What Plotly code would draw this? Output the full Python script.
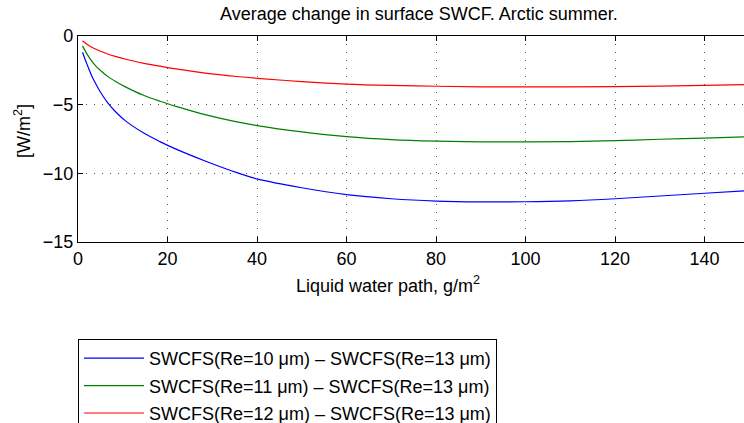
import plotly.graph_objects as go

lwp = [1, 2, 3, 4, 5, 6.6, 8.5, 10.7, 14.5, 18.3, 21.9, 28.4, 35.5, 40, 50, 60, 70, 80, 90, 100, 110, 120, 130, 140, 150]
re10 = [-1.18, -2.05, -2.85, -3.5, -4.08, -4.85, -5.55, -6.2, -7.03, -7.69, -8.24, -9.1, -9.95, -10.4, -11.05,
        -11.55, -11.85, -12.02, -12.08, -12.07, -12.0, -11.85, -11.65, -11.45, -11.25]
re11 = [-0.72, -1.3, -1.8, -2.2, -2.5, -2.94, -3.33, -3.72, -4.3, -4.75, -5.12, -5.72, -6.25, -6.52, -6.98,
        -7.33, -7.55, -7.66, -7.71, -7.71, -7.69, -7.62, -7.52, -7.43, -7.33]
re12 = [-0.34, -0.6, -0.8, -0.97, -1.11, -1.31, -1.5, -1.69, -1.98, -2.2, -2.4, -2.7, -2.95, -3.08, -3.32,
        -3.5, -3.6, -3.66, -3.7, -3.71, -3.71, -3.69, -3.65, -3.6, -3.54]

names = ["SWCFS(Re=10 μm) – SWCFS(Re=13 μm)",
         "SWCFS(Re=11 μm) – SWCFS(Re=13 μm)",
         "SWCFS(Re=12 μm) – SWCFS(Re=13 μm)"]
colors = ["#0000ff", "#008000", "#ff0000"]
xticks = [0, 20, 40, 60, 80, 100, 120, 140]
yticks = [0, -5, -10, -15]

FONT = "Liberation Sans, Arial, Helvetica, sans-serif"
FS = 18

fig = go.Figure()
for i, (ys, nm, c) in enumerate(zip([re10, re11, re12], names, colors)):
    fig.add_trace(go.Scatter(x=lwp, y=ys, mode="lines", name=nm, legendgroup=f"g{i}",
                             line=dict(color=c, width=1.2, shape="spline", smoothing=1.0)))

W, H = 744, 423
L, T, B, R = 78, 36, 181, 0
fig.update_layout(
    width=W, height=H,
    margin=dict(l=L, r=R, t=T, b=B, pad=0, autoexpand=False),
    paper_bgcolor="white", plot_bgcolor="white",
    font=dict(family=FONT, size=FS, color="black"),
    showlegend=True,
    legend=dict(xref="container", yref="container",
                x=78 / W, xanchor="left", y=(H - 339) / H, yanchor="top",
                bordercolor="black", borderwidth=1, bgcolor="white",
                traceorder="grouped", tracegroupgap=1,
                font=dict(family=FONT, size=FS, color="black"),
                itemwidth=60),
    xaxis=dict(range=[0, 148.8], tickvals=xticks, ticktext=[str(v) for v in xticks],
               showline=True, linecolor="black", linewidth=1.3, mirror="ticks",
               ticks="inside", ticklen=5, tickcolor="black", tickwidth=1,
               showgrid=True, gridcolor="#555555", griddash="1px,7px", gridwidth=1,
               zeroline=False, tickfont=dict(size=FS), automargin=False),
    yaxis=dict(range=[-15, 0], tickvals=yticks, ticktext=["0", "−5", "−10", "−15"],
               showline=True, linecolor="black", linewidth=1.3, mirror=False,
               ticks="inside", ticklen=5, tickcolor="black", tickwidth=1,
               showgrid=True, gridcolor="#555555", griddash="1px,7px", gridwidth=1,
               zeroline=False, tickfont=dict(size=FS), automargin=False),
)

pw = W - L - R
ph = H - T - B
def px2paper_x(px):
    return (px - L) / pw
def px2paper_y(py):
    return (H - B - py) / ph

fig.add_annotation(text="Average change in surface SWCF. Arctic summer.",
                   x=px2paper_x(419), y=px2paper_y(14), xref="paper", yref="paper",
                   showarrow=False, font=dict(size=FS), xanchor="center", yanchor="middle")
fig.add_annotation(text="Liquid water path, g/m<sup>2</sup>",
                   x=px2paper_x(388), y=px2paper_y(284), xref="paper", yref="paper",
                   showarrow=False, font=dict(size=FS), xanchor="center", yanchor="middle")
fig.add_annotation(text="[W/m<sup>2</sup>]", textangle=-90,
                   x=px2paper_x(22), y=px2paper_y(131), xref="paper", yref="paper",
                   showarrow=False, font=dict(size=FS), xanchor="center", yanchor="middle")

fig.write_html("out.html", config={"displayModeBar": False},
               post_script="document.body.style.margin='0';document.body.style.overflow='hidden';")
